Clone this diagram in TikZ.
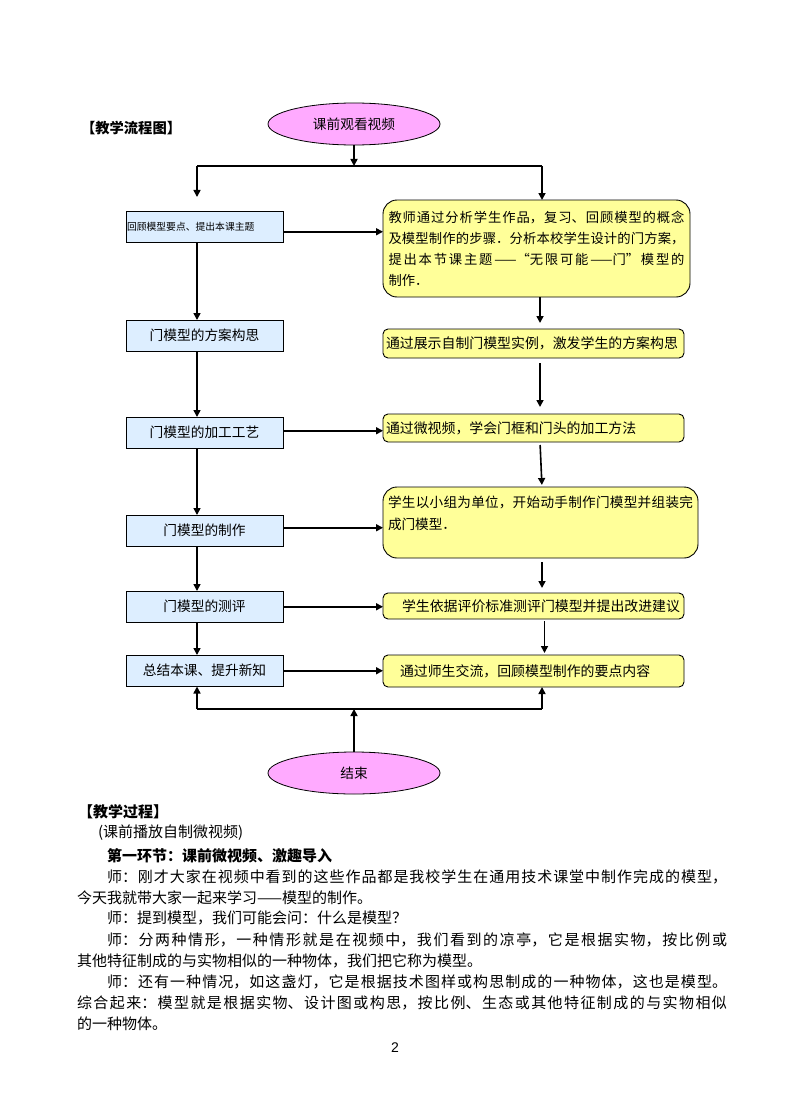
\documentclass[tikz,border=0pt]{standalone}
\usepackage{fontspec}
\setmainfont{Liberation Serif}
\newfontfamily\cjk{Noto Sans CJK SC}
\newfontfamily\arialish{Liberation Sans}
\usetikzlibrary{shapes.geometric,arrows.meta}
\definecolor{pinkfill}{RGB}{255,170,255}
\definecolor{bluefill}{RGB}{221,238,255}
\definecolor{yellowfill}{RGB}{255,255,153}
\newcommand\setfs[1]{\fontsize{#1}{#1}\selectfont}
\newcommand\jpar{\XeTeXlinebreaklocale "zh"\XeTeXlinebreakskip=0pt plus 6pt\relax\parindent=0pt\tolerance=10000\relax\hbadness=10000\relax\parfillskip=0pt\relax}
\begin{document}
\begin{tikzpicture}[x=1pt,y=-1pt,
  every node/.style={inner sep=0pt, outer sep=0pt},
  ovalnode/.style={ellipse, draw=black, line width=0.8pt, fill=pinkfill, minimum width=172pt, minimum height=42pt, font=\cjk\setfs{13.7}},
  stagebox/.style={rectangle, draw=black, line width=0.9pt, fill=bluefill, anchor=north west, minimum width=157pt, minimum height=31.5pt, font=\cjk\setfs{13.7}},
  actbox/.style={rectangle, rounded corners=5pt, draw=black, line width=0.9pt, fill=yellowfill, anchor=north west, minimum width=301pt, text width=295pt, align=left, font=\cjk\setfs{13.9}},
  bigact/.style={actbox, rounded corners=14pt},
  conn/.style={line width=1.6pt, -{Triangle[length=7pt,width=7pt]}},
  wire/.style={line width=1.6pt},
  body/.style={anchor=west, font=\cjk\setfs{15}},
  bodyhead/.style={anchor=west, font=\cjk\bfseries\setfs{15}},
]
\useasboundingbox (0,0) rectangle (790,1118);
\fill[white] (0,0) rectangle (790,1118);

% headings
\node[anchor=west, font=\cjk\bfseries\setfs{14.3}] (h1) at (81,128) {【教学流程图】};

% ellipses
\node[ovalnode] (start) at (354,124) {课前观看视频};
\node[ovalnode] (end) at (354,773) {结束};

% left column
\node[stagebox, text width=155pt, align=left, font=\cjk\setfs{9.8}] (lb1) at (126,211) {回顾模型要点、提出本课主题};
\node[stagebox] (lb2) at (126,320) {门模型的方案构思};
\node[stagebox] (lb3) at (126,417) {门模型的加工工艺};
\node[stagebox] (lb4) at (126,515) {门模型的制作};
\node[stagebox] (lb5) at (126,591) {门模型的测评};
\node[stagebox] (lb6) at (126,655) {总结本课、提升新知};

% right column
\node[bigact, minimum width=307pt, minimum height=97pt, text width=296pt, align=justify, font=\cjk\setfs{13.3}] (rb1) at (383,200)
  {\jpar\baselineskip=21pt 教师通过分析学生作品，复习、回顾模型的概念\par 及模型制作的步骤．分析本校学生设计的门方案，\par 提出本节课主题——“无限可能——门”模型的\par\parfillskip=0pt plus 1fil 制作．\par};
\node[actbox, minimum height=29pt] (rb2) at (383,329) {通过展示自制门模型实例，激发学生的方案构思};
\node[actbox, minimum height=28pt] (rb3) at (383,414) {通过微视频，学会门框和门头的加工方法};
\node[bigact, minimum width=315pt, minimum height=71pt] (rb4) at (383,487) {};
\node[anchor=north west, text width=305pt, align=justify, font=\cjk\setfs{13.6}] (rb4t) at (388,496)
  {\jpar\baselineskip=22pt 学生以小组为单位，开始动手制作门模型并组装完\par\parfillskip=0pt plus 1fil 成门模型．\par};
\node[actbox, minimum height=26pt] (rb5) at (383,593) {\hspace*{16pt}学生依据评价标准测评门模型并提出改进建议};
\node[actbox, minimum height=32pt] (rb6) at (383,655) {\hspace*{14pt}通过师生交流，回顾模型制作的要点内容};

% helper coordinates
\coordinate (ftop) at (354,166);
\coordinate (fl) at (197,166);
\coordinate (fr) at (542,166);
\coordinate (bl) at (197,709);
\coordinate (br) at (542,709);
\coordinate (bm) at (354,709);
\coordinate (rx1) at (540,0);
\coordinate (rx2) at (542,0);
\coordinate (rx3) at (544.5,0);

% top fork
\draw[conn] (start.south) -- (ftop);
\draw[wire] (fl) -- (fr);
\draw[conn, shorten >=14pt] (fl) -- (lb1.north -| fl);
\draw[conn] (fr) -- (fr |- rb1.north);

% left column arrows
\draw[conn] (lb1.south -| fl) -- (lb2.north -| fl);
\draw[conn] (lb2.south -| fl) -- (lb3.north -| fl);
\draw[conn] (lb3.south -| fl) -- (lb4.north -| fl);
\draw[conn] (lb4.south -| fl) -- (lb5.north -| fl);
\draw[conn] (lb5.south -| fl) -- (lb6.north -| fl);

% horizontal arrows
\draw[conn] ([yshift=-5pt]lb1.east) -- ([yshift=-5pt]lb1.east -| rb1.west);
\draw[conn] ([yshift=2pt]lb3.east) -- ([yshift=2pt]lb3.east -| rb3.west);
\draw[conn] ([yshift=3pt]lb4.east) -- ([yshift=3pt]lb4.east -| rb4.west);
\draw[conn] (lb5.east) -- (lb5.east -| rb5.west);
\draw[conn] (lb6.east) -- (lb6.east -| rb6.west);

% right column arrows
\draw[conn, shorten >=6pt] (rb1.south -| rx1) -- (rb2.north -| rx1);
\draw[conn, shorten <=5pt, shorten >=7pt] (rb2.south -| rx1) -- (rb3.north -| rx1);
\draw[conn, shorten <=3pt, shorten >=2pt] (rb3.south -| rx1) -- (rb4.north -| rx2);
\draw[conn, shorten <=4pt, shorten >=5pt] (rb4.south -| rx2) -- (rb5.north -| rx2);
\draw[conn, shorten <=2pt, shorten >=2pt] (rb5.south -| rx3) -- (rb6.north -| rx3);

% bottom join
\draw[wire] (bl) -- (br);
\draw[conn] (bl) -- (lb6.south -| bl);
\draw[conn] (br) -- (rb6.south -| br);
\draw[conn] (end.north) -- (bm);

% body text
\node[bodyhead] (h2) at (78,812) {【教学过程】};
\node[body] (t0) at (98,833) {(课前播放自制微视频)};
\node[bodyhead] (t1) at (107,856) {第一环节：课前微视频、激趣导入};
\node[body, text width=620pt, align=justify] (t2) at (107,877) {\jpar 师：刚才大家在视频中看到的这些作品都是我校学生在通用技术课堂中制作完成的模型，\par};
\node[body] (t3) at (77,898) {今天我就带大家一起来学习——模型的制作。};
\node[body] (t4) at (107,918) {师：提到模型，我们可能会问：什么是模型？};
\node[body, text width=620pt, align=justify] (t5) at (107,940) {\jpar 师：分两种情形，一种情形就是在视频中，我们看到的凉亭，它是根据实物，按比例或\par};
\node[body] (t6) at (77,961) {其他特征制成的与实物相似的一种物体，我们把它称为模型。};
\node[body, text width=620pt, align=justify] (t7) at (107,982) {\jpar 师：还有一种情况，如这盏灯，它是根据技术图样或构思制成的一种物体，这也是模型。\par};
\node[body, text width=650pt, align=justify] (t8) at (77,1003) {\jpar 综合起来：模型就是根据实物、设计图或构思，按比例、生态或其他特征制成的与实物相似\par};
\node[body] (t9) at (77,1024) {的一种物体。};
\node[font=\arialish\setfs{14}] (pg) at (395,1048) {2};
\end{tikzpicture}
\end{document}
